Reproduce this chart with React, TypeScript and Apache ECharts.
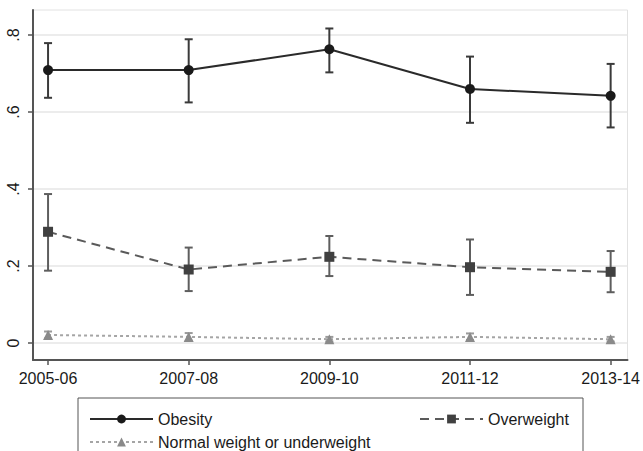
import React, { useEffect, useRef } from "react";
import * as echarts from "echarts";

const categories = ["2005-06", "2007-08", "2009-10", "2011-12", "2013-14"];
const yTicks = [0, 0.2, 0.4, 0.6, 0.8];
const xTicks = [0, 1, 2, 3, 4];

const obesity = [0.709, 0.709, 0.763, 0.66, 0.642];
const obesityLo = [0.637, 0.625, 0.703, 0.572, 0.56];
const obesityHi = [0.779, 0.789, 0.817, 0.744, 0.725];

const overweight = [0.289, 0.191, 0.224, 0.197, 0.185];
const overweightLo = [0.188, 0.135, 0.174, 0.125, 0.132];
const overweightHi = [0.387, 0.248, 0.278, 0.269, 0.239];

const normal = [0.021, 0.016, 0.01, 0.016, 0.01];
const normalLo = [0.012, 0.006, 0.004, 0.008, 0.004];
const normalHi = [0.03, 0.026, 0.016, 0.025, 0.016];

const FONT = "'Liberation Sans', Arial, Helvetica, sans-serif";

function errorBars(name: string, lo: number[], hi: number[], color: string) {
  return {
    type: "custom",
    name: name + " CI",
    z: 1,
    silent: true,
    encode: { x: 0, y: [1, 2] },
    data: categories.map((_, i) => [i, lo[i], hi[i]]),
    renderItem: (params: any, api: any) => {
      const x = api.value(0);
      const p1 = api.coord([x, api.value(1)]);
      const p2 = api.coord([x, api.value(2)]);
      const w = 4;
      const style = { stroke: color, lineWidth: 2 };
      return {
        type: "group",
        children: [
          { type: "line", shape: { x1: p1[0], y1: p1[1], x2: p2[0], y2: p2[1] }, style },
          { type: "line", shape: { x1: p1[0] - w, y1: p1[1], x2: p1[0] + w, y2: p1[1] }, style },
          { type: "line", shape: { x1: p2[0] - w, y1: p2[1], x2: p2[0] + w, y2: p2[1] }, style },
        ],
      };
    },
  };
}

const legendBase = {
  orient: "horizontal",
  itemWidth: 63,
  itemHeight: 11,
  textStyle: { fontSize: 16, color: "#1a1a1a", fontFamily: FONT },
  selectedMode: false,
};

export default function App() {
  const ref = useRef<HTMLDivElement>(null);
  useEffect(() => {
    if (!ref.current) return;
    const chart = echarts.init(ref.current, undefined, { renderer: "svg" });
    chart.setOption({
      animation: false,
      backgroundColor: "#ffffff",
      textStyle: { fontFamily: FONT },
      grid: {
        left: 33,
        right: 15,
        top: 10,
        bottom: 91,
        show: true,
        borderColor: "#e2e2e2",
        borderWidth: 1,
      },
      xAxis: {
        type: "value",
        min: -0.107,
        max: 4.12,
        axisLine: { show: true, onZero: false, lineStyle: { color: "#555", width: 2 } },
        axisTick: { show: true, customValues: xTicks, length: 5, lineStyle: { color: "#555", width: 1.5 } },
        axisLabel: {
          customValues: xTicks,
          formatter: (v: number) => categories[Math.round(v)] ?? "",
          fontSize: 16,
          color: "#1a1a1a",
          margin: 10,
          fontFamily: FONT,
        },
        splitLine: { show: false },
      },
      yAxis: {
        type: "value",
        min: -0.044,
        max: 0.865,
        axisLine: { show: true, onZero: false, lineStyle: { color: "#555", width: 2 } },
        axisTick: { show: true, customValues: yTicks, length: 5, lineStyle: { color: "#555", width: 1.5 } },
        axisLabel: {
          customValues: yTicks,
          rotate: 90,
          formatter: (v: number) => (v === 0 ? "0" : String(Math.round(v * 10) / 10).replace(/^0/, "")),
          fontSize: 16,
          color: "#1a1a1a",
          margin: 12,
          fontFamily: FONT,
        },
        splitLine: { show: true, lineStyle: { color: "#e6e6e6", width: 1.5 } },
      },
      legend: [
        { ...legendBase, left: 84, top: 406, data: ["Obesity"] },
        { ...legendBase, left: 84, top: 429, data: ["Normal weight or underweight"] },
        { ...legendBase, left: 414, top: 406, data: ["Overweight"] },
      ],
      graphic: [
        {
          type: "rect",
          shape: { x: 78, y: 398, width: 505, height: 70 },
          style: { fill: "none", stroke: "#555", lineWidth: 1 },
          silent: true,
        },
      ],
      series: [
        errorBars("Obesity", obesityLo, obesityHi, "#3a3a3a"),
        errorBars("Overweight", overweightLo, overweightHi, "#5e5e5e"),
        errorBars("Normal weight or underweight", normalLo, normalHi, "#9a9a9a"),
        {
          type: "line",
          name: "Obesity",
          z: 3,
          data: categories.map((_, i) => [i, obesity[i]]),
          symbol: "circle",
          symbolSize: 10,
          itemStyle: { color: "#1a1a1a" },
          lineStyle: { color: "#2a2a2a", width: 2 },
        },
        {
          type: "line",
          name: "Overweight",
          z: 3,
          data: categories.map((_, i) => [i, overweight[i]]),
          symbol: "rect",
          symbolSize: 10,
          itemStyle: { color: "#404040" },
          lineStyle: { color: "#5a5a5a", width: 2, type: [9, 6] },
        },
        {
          type: "line",
          name: "Normal weight or underweight",
          z: 3,
          data: categories.map((_, i) => [i, normal[i]]),
          symbol: "triangle",
          symbolSize: 10,
          itemStyle: { color: "#8a8a8a" },
          lineStyle: { color: "#a5a5a5", width: 2, type: [3, 3] },
        },
      ],
    });
    return () => chart.dispose();
  }, []);
  return <div ref={ref} style={{ width: 643, height: 451, position: "absolute", left: 0, top: 0 }} />;
}
